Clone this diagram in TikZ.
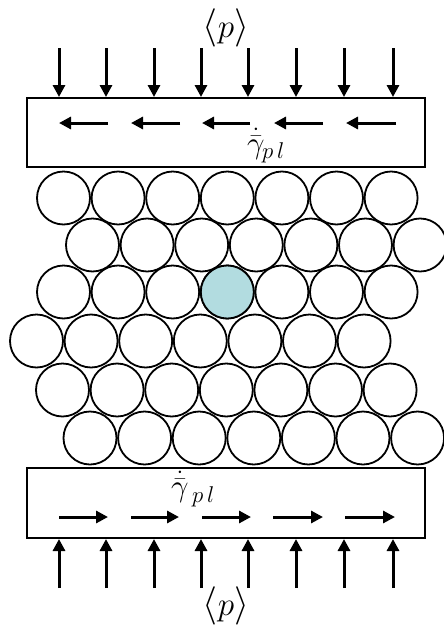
\documentclass[tikz,border=0pt]{standalone}
\usepackage{graphicx}
\usetikzlibrary{arrows.meta}
\definecolor{grain}{RGB}{178,220,224}
\newcommand{\bigtxt}[2]{\scalebox{#1}{\huge #2}}
\newcommand{\avgp}{\bigtxt{1.85}{$\langle$}\bigtxt{1.6}{$p$}\bigtxt{1.85}{$\rangle$}}
\begin{document}
\begin{tikzpicture}[x=1pt,y=-1pt,
  plate/.style={draw=black,line width=2pt,fill=white},
  force/.style={line width=3pt,-{Triangle[length=12pt,width=12pt]}},
  shear/.style={line width=3pt,-{Triangle[length=12pt,width=12pt]}},
  particle/.style={draw=black,line width=1.8pt},
  lab/.style={inner sep=0pt}]
\useasboundingbox (0,0) rectangle (444,627);
% particles
\foreach \y/\x in {198/63.5,245/92.5,292/63.5,341/36.5,390/62.5,438/90}{
  \foreach \i in {0,...,6}{
    \draw[particle] (\x+\i*54.6,\y) circle (26.5);
  }
}
\fill[grain] (227.3,292) circle (26.5);
\draw[particle] (227.3,292) circle (26.5);
% plates
\node[plate,minimum width=398pt,minimum height=69pt,inner sep=0pt] (top) at (226,132.5) {};
\node[plate,minimum width=398pt,minimum height=70pt,inner sep=0pt] (bot) at (226,503) {};
% pressure arrows
\foreach \x [count=\k] in {59,106,154,201,248,296,344,393}{
  \coordinate (ts\k) at (\x,48);
  \coordinate (bs\k) at (\x,588);
  \draw[force] (ts\k) -- (ts\k |- top.north);
  \draw[force] (bs\k) -- (bs\k |- bot.south);
}
% shear arrows
\foreach \a/\b [count=\k] in {108/59,180/131,250/202,323/274,396/346}{
  \coordinate (tl\k) at (\a,123);
  \coordinate (tr\k) at (\b,123);
  \draw[shear] (tl\k) -- (tr\k);
}
\foreach \a/\b [count=\k] in {59/108,131/179,202/251,273/323,345/395}{
  \coordinate (bl\k) at (\a,517);
  \coordinate (br\k) at (\b,517);
  \draw[shear] (bl\k) -- (br\k);
}
% labels
\node[lab,anchor=base] (ptop) at (226,37) {\avgp};
\node[lab,anchor=base] (pbot) at (226,615) {\avgp};
\node[lab,anchor=base west] (gtop) at (247,153) {\bigtxt{1.5}{$\dot{\bar{\gamma}}$}};
\node[lab,anchor=base west] (stop) at (262,158.5) {\bigtxt{1.1}{$p\mkern3mu l$}};
\node[lab,anchor=base west] (gbot) at (171,496) {\bigtxt{1.5}{$\dot{\bar{\gamma}}$}};
\node[lab,anchor=base west] (sbot) at (192,502.5) {\bigtxt{1.1}{$p\mkern3mu l$}};
\end{tikzpicture}
\end{document}
